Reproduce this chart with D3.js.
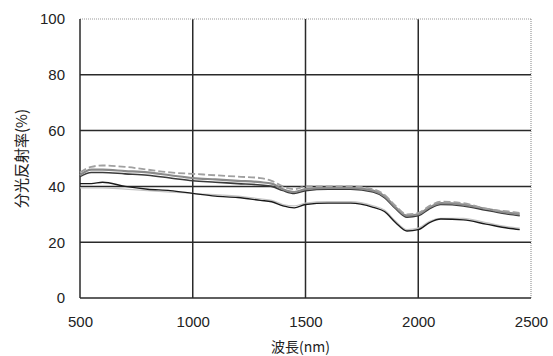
<!DOCTYPE html>
<html>
<head>
<meta charset="utf-8">
<script src="https://cdn.jsdelivr.net/npm/d3@7"></script>
<style>
  html, body { margin: 0; padding: 0; background: #fff; }
  #chart { width: 553px; height: 356px; }
</style>
</head>
<body>
<div id="chart"></div>
<script>
// wavelengths (nm) and reflectance series (%)
const wavelengths = [500, 550, 600, 700, 800, 900, 1000, 1100, 1200, 1300, 1350, 1400, 1450, 1500, 1600, 1700, 1800, 1850, 1900, 1950, 2000, 2050, 2100, 2200, 2300, 2400, 2450];
const seriesTop = [45, 47, 47.5, 47, 46, 45, 44.5, 44, 43.5, 43, 42, 40, 39, 40, 40, 40, 39, 37, 33, 30, 30.5, 33, 34.5, 34, 32, 31, 30.5];
const seriesMid = [44, 46, 46, 45.5, 45, 44, 43, 42.5, 42, 41.5, 41, 39, 38, 39, 39.5, 39.5, 38.5, 36.5, 32.5, 29.5, 30, 32.5, 34, 33.5, 32, 30.5, 30];
const seriesDark = [43.5, 45, 45, 44.5, 44, 43, 42, 41.5, 41, 40.5, 40, 38.5, 37.5, 38.5, 39, 39, 38, 36, 32, 29, 29.5, 32, 33.5, 33, 31.5, 30, 29.5];
const seriesLow = [41, 41, 41.5, 40, 39, 38.5, 37.5, 36.5, 36, 35, 34.5, 33, 32.3, 33.5, 34, 34, 32.5, 31, 27, 24, 24.5, 27, 28.3, 28, 26.5, 25, 24.5];
const seriesLight = [39.5, 39.5, 39.5, 39, 38.5, 38, 37.5, 37, 36.5, 35.5, 35, 33.5, 33, 34, 34.5, 34.5, 33, 31.5, 27.5, 24.5, 25, 27.5, 28.5, 28.5, 27, 25.5, 25];
const xTicks = [500, 1000, 1500, 2000, 2500];
const yTicks = [0, 20, 40, 60, 80, 100];
const xTitle = '波長(nm)';
const yTitle = '分光反射率(%)';

const series = [
    { id: 'light', values: seriesLight, stroke: '#c4c4c4', width: 1.3, dash: null },
    { id: 'low', values: seriesLow, stroke: '#1a1a1a', width: 1.4, dash: null },
    { id: 'dark', values: seriesDark, stroke: '#3a3a3a', width: 1.6, dash: null },
    { id: 'mid', values: seriesMid, stroke: '#8a8a8a', width: 2.2, dash: null },
    { id: 'top', values: seriesTop, stroke: '#a0a0a0', width: 1.8, dash: '7 3' }
];

class Chart {
    constructor() {
        const attrs = {
            svgWidth: 553,
            svgHeight: 356,
            marginTop: 19,
            marginBottom: 58,
            marginRight: 22,
            marginLeft: 80,
            container: '#chart',
            textFill: '#222'
        };
        this.getState = () => attrs;
        this.setState = (d) => Object.assign(attrs, d);
    }

    render() {
        this.calculateProperties();
        this.drawSvgAndWrappers();
        this.drawAxes();
        this.drawLines();
    }

    calculateProperties() {
        const attrs = this.getState();
        const chartWidth = attrs.svgWidth - attrs.marginLeft - attrs.marginRight;
        const chartHeight = attrs.svgHeight - attrs.marginTop - attrs.marginBottom;
        const xScale = d3.scaleLinear().domain([500, 2500]).range([0, chartWidth]);
        const yScale = d3.scaleLinear().domain([0, 100]).range([chartHeight, 0]);
        this.setState({ chartWidth, chartHeight, xScale, yScale });
    }

    drawSvgAndWrappers() {
        const { container, svgWidth, svgHeight, marginLeft, marginTop } = this.getState();
        const svg = d3.select(container).append('svg')
            .attr('width', svgWidth)
            .attr('height', svgHeight);
        const chart = svg.append('g')
            .attr('transform', `translate(${marginLeft},${marginTop})`);
        this.setState({ svg, chart });
    }

    drawAxes() {
        const { chart, xScale, yScale, chartWidth, chartHeight, textFill } = this.getState();

        // grid
        const grid = chart.append('g').attr('class', 'grid');
        grid.selectAll('.h-line')
            .data(yTicks.filter(d => d > 0 && d < 100))
            .join('line')
            .attr('class', 'h-line')
            .attr('x1', 0).attr('x2', chartWidth)
            .attr('y1', d => yScale(d)).attr('y2', d => yScale(d))
            .attr('stroke', '#2a2a2a').attr('stroke-width', 1.5);
        grid.selectAll('.v-line')
            .data(xTicks.filter(d => d > 500 && d < 2500))
            .join('line')
            .attr('class', 'v-line')
            .attr('x1', d => xScale(d)).attr('x2', d => xScale(d))
            .attr('y1', 0).attr('y2', chartHeight)
            .attr('stroke', '#2a2a2a').attr('stroke-width', 1.5);

        // frame: top and right dotted light, left and bottom solid
        grid.append('line')
            .attr('x1', 0).attr('x2', chartWidth).attr('y1', 0).attr('y2', 0)
            .attr('stroke', '#9a9a9a').attr('stroke-width', 1.2).attr('stroke-dasharray', '1 1');
        grid.append('line')
            .attr('x1', chartWidth).attr('x2', chartWidth).attr('y1', 0).attr('y2', chartHeight)
            .attr('stroke', '#9a9a9a').attr('stroke-width', 1.2).attr('stroke-dasharray', '1 1');
        grid.append('line')
            .attr('x1', 0).attr('x2', 0).attr('y1', 0).attr('y2', chartHeight)
            .attr('stroke', '#2a2a2a').attr('stroke-width', 1.5);
        grid.append('line')
            .attr('x1', 0).attr('x2', chartWidth).attr('y1', chartHeight).attr('y2', chartHeight)
            .attr('stroke', '#2a2a2a').attr('stroke-width', 1.5);

        const xAxis = d3.axisBottom(xScale).tickValues(xTicks).tickFormat(d3.format('d')).tickSize(0).tickPadding(18);
        const yAxis = d3.axisLeft(yScale).tickValues(yTicks).tickFormat(d3.format('d')).tickSize(0).tickPadding(15);

        const xAxisWrapper = chart.append('g')
            .attr('transform', `translate(0,${chartHeight})`)
            .call(xAxis);
        const yAxisWrapper = chart.append('g').call(yAxis);

        [xAxisWrapper, yAxisWrapper].forEach(w => {
            w.select('.domain').remove();
            w.selectAll('text')
                .attr('fill', textFill)
                .style('font-family', '"Liberation Sans", Arial, sans-serif')
                .style('font-size', '15px');
        });

        chart.append('text')
            .text(xTitle)
            .attr('x', xScale(1500) - 5)
            .attr('y', chartHeight + 54)
            .attr('text-anchor', 'middle')
            .attr('fill', textFill)
            .style('font-family', '"Noto Sans CJK JP", sans-serif')
            .style('font-size', '14px');

        chart.append('text')
            .text(yTitle)
            .attr('transform', `translate(${-53},${yScale(50)}) rotate(-90)`)
            .attr('text-anchor', 'middle')
            .attr('fill', textFill)
            .style('font-family', '"Noto Sans CJK JP", sans-serif')
            .style('font-size', '15px');
    }

    drawLines() {
        const { chart, xScale, yScale } = this.getState();
        const line = d3.line()
            .x((d, i) => xScale(wavelengths[i]))
            .y(d => yScale(d))
            .curve(d3.curveMonotoneX);

        chart.append('g').attr('class', 'lines')
            .selectAll('path')
            .data(series)
            .join('path')
            .attr('d', d => line(d.values))
            .attr('fill', 'none')
            .attr('stroke', d => d.stroke)
            .attr('stroke-width', d => d.width)
            .attr('stroke-dasharray', d => d.dash);
    }
}

new Chart().render();
</script>
</body>
</html>
